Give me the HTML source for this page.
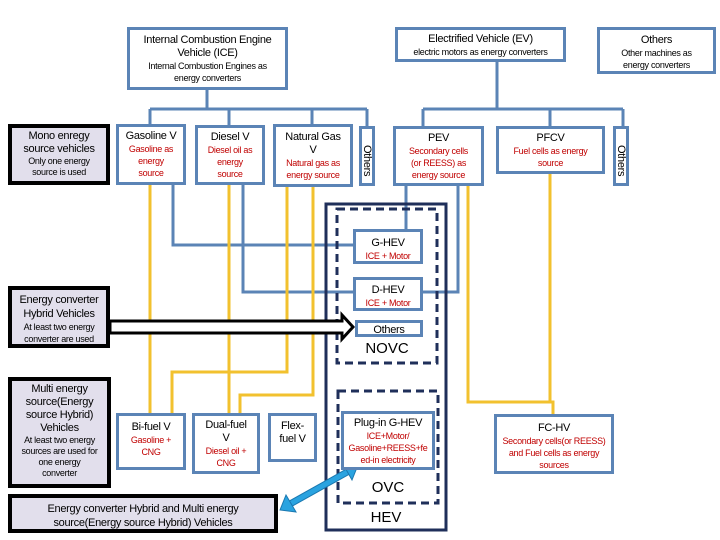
<!DOCTYPE html>
<html><head><meta charset="utf-8"><style>
body{margin:0;width:720px;height:540px;background:#fff;position:relative;overflow:hidden;font-family:"Liberation Sans",sans-serif;}
.b{position:absolute;box-sizing:border-box;border:3px solid #5b84b6;background:#fff;text-align:center;color:#000;font-size:11px;line-height:13px;letter-spacing:-0.3px}
.k{position:absolute;box-sizing:border-box;border:4px solid #000;background:#e2dfec;text-align:center;font-size:11px;line-height:14px;letter-spacing:-0.3px}
.r{color:#c00000;font-size:9px;line-height:12px}
.s{font-size:9px;line-height:12px}
.t{position:absolute;font-size:15px;text-align:center}
.v{writing-mode:vertical-rl;font-size:11px;line-height:11px}
</style></head><body>
<svg width="720" height="540" style="position:absolute;left:0;top:0">
<g stroke="#5b84b6" stroke-width="3" fill="none">
<path d="M207 89V109M150 109H367M150 109V124M229 109V125M312 109V124M367 109V126"/>
<path d="M497 61V109M423 109H623M423 109V126M550 109V126M623 109V126"/>
<path d="M173 184V245H355M406 185V229M243 184V292H355M423 292H458V185"/>
</g>
<g stroke="#f2c12e" stroke-width="3" fill="none">
<path d="M150 184V413M229 184V413M287 186V372H172V413M313 186V395H240V413M468 185V402H553V414M550 173V402"/>
</g>
<rect x="326" y="204" width="120" height="326" fill="none" stroke="#1f2f5a" stroke-width="3"/>
<rect x="337" y="209" width="100" height="154" fill="none" stroke="#1f2f5a" stroke-width="3" stroke-dasharray="8,5"/>
<rect x="338" y="391" width="100" height="112" fill="none" stroke="#1f2f5a" stroke-width="3" stroke-dasharray="8,5"/>
<path d="M110 321H342V315L353 327L342 339V333H110Z" fill="#fff" stroke="#000" stroke-width="3"/>
<line x1="290" y1="504" x2="349" y2="471" stroke="#1a78b0" stroke-width="7"/>
<line x1="290" y1="504" x2="349" y2="471" stroke="#2aa3e0" stroke-width="5"/>
<polygon points="280,510 286,495 296,512" fill="#2aa3e0" stroke="#1a78b0" stroke-width="1"/>
<polygon points="358,465 343,464 352,480" fill="#2aa3e0" stroke="#1a78b0" stroke-width="1"/>
</svg>
<div class="b" style="left:127px;top:27px;width:161px;height:63px;padding-top:4px">Internal Combustion Engine<br>Vehicle (ICE)<div class="s">Internal Combustion Engines as<br>energy converters</div></div>
<div class="b" style="left:395px;top:27px;width:171px;height:35px;padding-top:3px">Electrified Vehicle (EV)<div class="s">electric motors as energy converters</div></div>
<div class="b" style="left:597px;top:27px;width:119px;height:47px;padding-top:4px">Others<div class="s">Other machines as<br>energy converters</div></div>
<div class="k" style="left:8px;top:124px;width:102px;height:61px;padding-top:2px;line-height:13px">Mono enregy<br>source vehicles<div class="s" style="line-height:11px">Only one energy<br>source is used</div></div>
<div class="b" style="left:116px;top:124px;width:70px;height:61px;padding-top:3px">Gasoline V<div class="r">Gasoline as<br>energy<br>source</div></div>
<div class="b" style="left:195px;top:125px;width:70px;height:60px;padding-top:3px">Diesel V<div class="r">Diesel oil as<br>energy<br>source</div></div>
<div class="b" style="left:273px;top:124px;width:80px;height:63px;padding-top:4px">Natural Gas<br>V<div class="r">Natural gas as<br>energy source</div></div>
<div class="b v" style="left:359px;top:126px;width:16px;height:60px;padding-top:10px">Others</div>
<div class="b" style="left:393px;top:126px;width:91px;height:60px;padding-top:3px">PEV<div class="r">Secondary cells<br>(or REESS) as<br>energy source</div></div>
<div class="b" style="left:496px;top:126px;width:109px;height:48px;padding-top:3px">PFCV<div class="r">Fuel cells as energy<br>source</div></div>
<div class="b v" style="left:613px;top:126px;width:16px;height:60px;padding-top:10px">Others</div>
<div class="b" style="left:353px;top:229px;width:70px;height:35px;padding-top:5px">G-HEV<div class="r">ICE + Motor</div></div>
<div class="b" style="left:353px;top:277px;width:70px;height:34px;padding-top:4px">D-HEV<div class="r">ICE + Motor</div></div>
<div class="b" style="left:355px;top:320px;width:68px;height:17px;padding-top:1px">Others</div>
<div class="t" style="left:337px;top:340px;width:100px">NOVC</div>
<div class="k" style="left:8px;top:286px;width:102px;height:62px;padding-top:3px">Energy converter<br>Hybrid Vehicles<div class="s">At least two energy<br>converter are used</div></div>
<div class="k" style="left:8px;top:377px;width:103px;height:111px;padding-top:2px;line-height:13px">Multi energy<br>source(Energy<br>source Hybrid)<br>Vehicles<div class="s" style="line-height:11px">At least two energy<br>sources are used for<br>one energy<br>converter</div></div>
<div class="b" style="left:116px;top:413px;width:70px;height:57px;padding-top:5px">Bi-fuel V<div class="r">Gasoline +<br>CNG</div></div>
<div class="b" style="left:192px;top:413px;width:68px;height:61px;padding-top:3px">Dual-fuel<br>V<div class="r">Diesel oil +<br>CNG</div></div>
<div class="b" style="left:268px;top:413px;width:49px;height:49px;padding-top:4px">Flex-<br>fuel V</div>
<div class="b" style="left:341px;top:411px;width:94px;height:59px;padding-top:3px">Plug-in G-HEV<div class="r">ICE+Motor/<br>Gasoline+REESS+fe<br>ed-in electricity</div></div>
<div class="t" style="left:338px;top:479px;width:100px">OVC</div>
<div class="t" style="left:326px;top:509px;width:120px">HEV</div>
<div class="b" style="left:494px;top:414px;width:120px;height:60px;padding-top:5px">FC-HV<div class="r">Secondary cells(or REESS)<br>and Fuel cells as energy<br>sources</div></div>
<div class="k" style="left:8px;top:494px;width:270px;height:39px;padding-top:4px">Energy converter Hybrid and Multi energy<br>source(Energy source Hybrid) Vehicles</div>
</body></html>
